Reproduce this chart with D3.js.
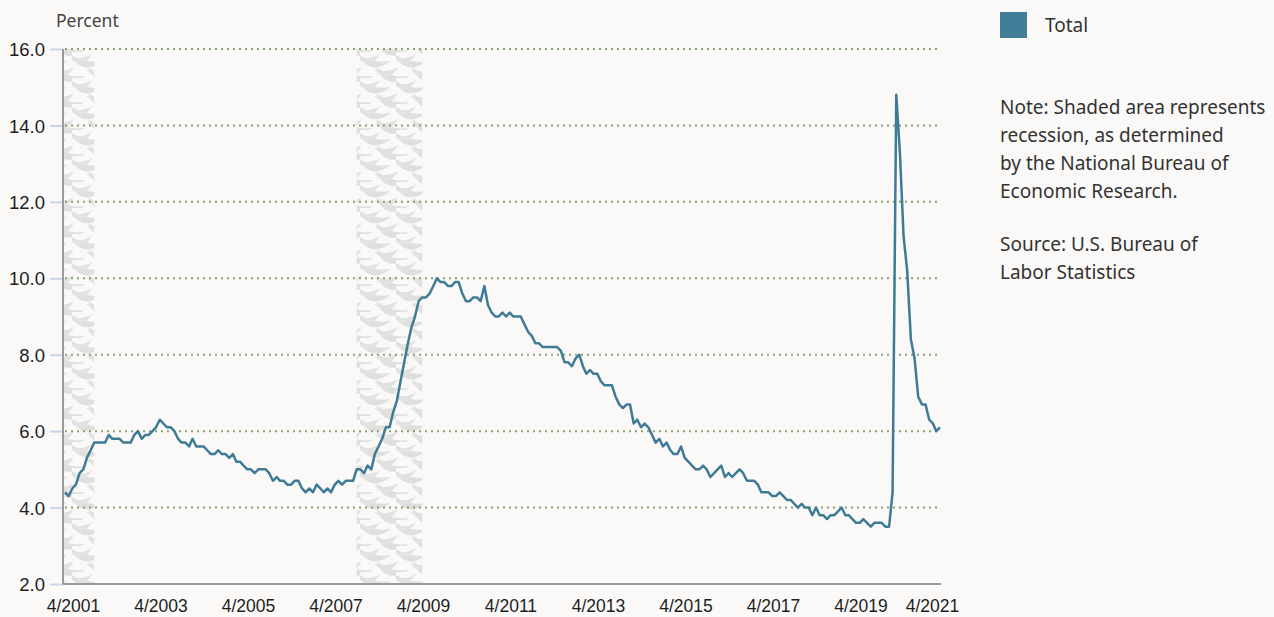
<!DOCTYPE html>
<html>
<head>
<meta charset="utf-8">
<script src="https://cdn.jsdelivr.net/npm/d3@7"></script>
<style>
  body { margin: 0; background: #faf9f7; }
  svg { display: block; font-family: "Noto Sans", sans-serif; }
</style>
</head>
<body>
<div id="chart-area"></div>
<script>
// unemployment rate, monthly, 4/2001 - 4/2021 (percent)
const startMonth = "2001-04";
const rates = [
  4.4, 4.3, 4.5, 4.6, 4.9, 5.0, 5.3, 5.5, 5.7,
  5.7, 5.7, 5.7, 5.9, 5.8, 5.8, 5.8, 5.7, 5.7, 5.7, 5.9, 6.0,
  5.8, 5.9, 5.9, 6.0, 6.1, 6.3, 6.2, 6.1, 6.1, 6.0, 5.8, 5.7,
  5.7, 5.6, 5.8, 5.6, 5.6, 5.6, 5.5, 5.4, 5.4, 5.5, 5.4, 5.4,
  5.3, 5.4, 5.2, 5.2, 5.1, 5.0, 5.0, 4.9, 5.0, 5.0, 5.0, 4.9,
  4.7, 4.8, 4.7, 4.7, 4.6, 4.6, 4.7, 4.7, 4.5, 4.4, 4.5, 4.4,
  4.6, 4.5, 4.4, 4.5, 4.4, 4.6, 4.7, 4.6, 4.7, 4.7, 4.7, 5.0,
  5.0, 4.9, 5.1, 5.0, 5.4, 5.6, 5.8, 6.1, 6.1, 6.5, 6.8, 7.3,
  7.8, 8.3, 8.7, 9.0, 9.4, 9.5, 9.5, 9.6, 9.8, 10.0, 9.9, 9.9,
  9.8, 9.8, 9.9, 9.9, 9.6, 9.4, 9.4, 9.5, 9.5, 9.4, 9.8, 9.3,
  9.1, 9.0, 9.0, 9.1, 9.0, 9.1, 9.0, 9.0, 9.0, 8.8, 8.6, 8.5,
  8.3, 8.3, 8.2, 8.2, 8.2, 8.2, 8.2, 8.1, 7.8, 7.8, 7.7, 7.9,
  8.0, 7.7, 7.5, 7.6, 7.5, 7.5, 7.3, 7.2, 7.2, 7.2, 6.9, 6.7,
  6.6, 6.7, 6.7, 6.2, 6.3, 6.1, 6.2, 6.1, 5.9, 5.7, 5.8, 5.6,
  5.7, 5.5, 5.4, 5.4, 5.6, 5.3, 5.2, 5.1, 5.0, 5.0, 5.1, 5.0,
  4.8, 4.9, 5.0, 5.1, 4.8, 4.9, 4.8, 4.9, 5.0, 4.9, 4.7, 4.7,
  4.7, 4.6, 4.4, 4.4, 4.4, 4.3, 4.3, 4.4, 4.3, 4.2, 4.2, 4.1,
  4.0, 4.1, 4.0, 4.0, 3.8, 4.0, 3.8, 3.8, 3.7, 3.8, 3.8, 3.9,
  4.0, 3.8, 3.8, 3.7, 3.6, 3.6, 3.7, 3.6, 3.5, 3.6, 3.6, 3.6,
  3.5, 3.5, 4.4, 14.8, 13.3, 11.1, 10.2, 8.4, 7.9, 6.9, 6.7, 6.7,
  6.3, 6.2, 6.0, 6.1
];
const recessionStarts = ["2001-03", "2007-12"];
const recessionEnds = ["2001-12", "2009-06"];
const yTicks = [2, 4, 6, 8, 10, 12, 14, 16];
const xTickLabels = ["4/2001", "4/2003", "4/2005", "4/2007", "4/2009", "4/2011",
  "4/2013", "4/2015", "4/2017", "4/2019", "4/2021"];
const seriesName = "Total";
const noteLines = ["Note: Shaded area represents", "recession, as determined",
  "by the National Bureau of", "Economic Research."];
const sourceLines = ["Source: U.S. Bureau of", "Labor Statistics"];

const W = 1274, H = 617;
const PLOT = { LEFT: 63, RIGHT: 941, TOP: 49, BOTTOM: 584 };
const LINE_COLOR = "#3f7b96";

const parseMonth = d3.timeParse("%Y-%m");
const parseTick = d3.timeParse("%m/%Y");
const start = parseMonth(startMonth);
const data = rates.map((v, i) => ({ date: d3.timeMonth.offset(start, i), value: v }));

const svg = d3.select("#chart-area").append("svg")
  .attr("width", W).attr("height", H);

svg.append("rect").attr("width", W).attr("height", H).attr("fill", "#faf9f7");

// scales
const x = d3.scaleTime()
  .domain(d3.extent(data, d => d.date))
  .range([65, 940]);
const y = d3.scaleLinear().domain([2, 16]).range([PLOT.BOTTOM, PLOT.TOP]);

// fish-scale pattern for recession bands
const defs = svg.append("defs");
const pat = defs.append("pattern")
  .attr("id", "scales")
  .attr("patternUnits", "userSpaceOnUse")
  .attr("width", 36).attr("height", 26);
// crescent: deep lower curve, shallow upper curve
const crescent = "M0,0 Q14,22 34,3 Q18,9 0,0 Z";
[[-2, 2, 6], [16, 15, 10], [-20, 15, 10], [16, -11, 10]].forEach(([tx, ty, r]) => {
  pat.append("path")
    .attr("d", crescent)
    .attr("transform", `translate(${tx},${ty}) rotate(${r})`)
    .attr("fill", "#dfdfde");
});
[[20, 2], [2, 15], [38, 15], [20, 28]].forEach(([tx, ty]) => {
  pat.append("path")
    .attr("d", crescent)
    .attr("transform", `translate(${tx},${ty}) scale(-0.7,0.8)`)
    .attr("fill", "#e2e2e1");
});

recessionStarts.forEach((s, i) => {
  const x0 = Math.max(PLOT.LEFT, x(parseMonth(s)));
  const x1 = x(parseMonth(recessionEnds[i]));
  svg.append("rect")
    .attr("class", "recession")
    .attr("x", x0).attr("y", PLOT.TOP)
    .attr("width", x1 - x0).attr("height", PLOT.BOTTOM - PLOT.TOP)
    .attr("fill", "url(#scales)");
});

// dotted gridlines
svg.append("g").selectAll("line")
  .data(yTicks.filter(d => d > 2))
  .join("line")
  .attr("x1", PLOT.LEFT + 2).attr("x2", 940)
  .attr("y1", d => y(d)).attr("y2", d => y(d))
  .attr("stroke", "#86a274")
  .attr("stroke-width", 2)
  .attr("stroke-dasharray", "2,4");

// y axis
const yAxis = svg.append("g")
  .attr("transform", `translate(${PLOT.LEFT},0)`)
  .call(d3.axisLeft(y).tickValues(yTicks).tickFormat(d3.format(".1f")).tickSize(13).tickPadding(5));
yAxis.select(".domain").remove();
yAxis.selectAll(".tick line").attr("stroke", "#c9d6ea").attr("stroke-width", 2);
yAxis.selectAll(".tick text").attr("fill", "#1e1e1e").attr("font-size", 18.5).attr("dy", "0.36em");

svg.append("line")
  .attr("x1", PLOT.LEFT).attr("x2", PLOT.LEFT)
  .attr("y1", PLOT.TOP).attr("y2", PLOT.BOTTOM)
  .attr("stroke", "#9a9a9a").attr("stroke-width", 2);

// x axis
const xAxis = svg.append("g")
  .attr("transform", `translate(0,${PLOT.BOTTOM})`)
  .call(d3.axisBottom(x)
    .tickValues(xTickLabels.map(parseTick))
    .tickFormat(d3.timeFormat("%-m/%Y"))
    .tickSize(0).tickPadding(16));
xAxis.select(".domain").remove();
xAxis.selectAll(".tick text")
  .attr("fill", "#1e1e1e")
  .attr("font-size", 17.5)
  .attr("dx", (d, i) => i === xTickLabels.length - 1 ? -8 : 8);

svg.append("line")
  .attr("x1", PLOT.LEFT).attr("x2", PLOT.RIGHT)
  .attr("y1", PLOT.BOTTOM).attr("y2", PLOT.BOTTOM)
  .attr("stroke", "#9a9a9a").attr("stroke-width", 2);

// axis title
svg.append("text")
  .attr("x", 56).attr("y", 27)
  .attr("font-size", 17.5)
  .attr("fill", "#444")
  .text("Percent");

// line
const line = d3.line().x(d => x(d.date)).y(d => y(d.value));
svg.append("path")
  .datum(data)
  .attr("d", line)
  .attr("fill", "none")
  .attr("stroke", LINE_COLOR)
  .attr("stroke-width", 2.5)
  .attr("stroke-linejoin", "round");

// legend
svg.append("rect")
  .attr("x", 1000).attr("y", 12).attr("width", 27).attr("height", 26)
  .attr("fill", "#437e98");
svg.append("text")
  .attr("x", 1045).attr("y", 32)
  .attr("font-size", 19).attr("fill", "#333")
  .text(seriesName);

// note + source
const notes = svg.append("text")
  .attr("font-size", 19).attr("fill", "#333");
noteLines.forEach((t, i) => {
  notes.append("tspan").attr("x", 1000).attr("y", 114 + i * 28).text(t);
});
sourceLines.forEach((t, i) => {
  notes.append("tspan").attr("x", 1000).attr("y", 251 + i * 28).text(t);
});
</script>
</body>
</html>
